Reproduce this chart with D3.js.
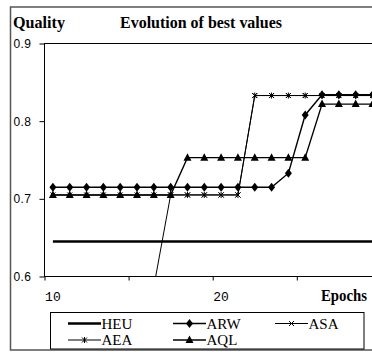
<!DOCTYPE html>
<html>
<head>
  <meta charset="UTF-8">
  <title>Evolution of best values</title>
  <style>
    body { margin: 0; background: #fff; }
    svg { display: block; }
  </style>
</head>
<body>
  <svg id="chart" width="372" height="352"></svg>

  <script src="https://d3js.org/d3.v7.min.js"></script>
  <script>
    // values, epochs 10..30
    var epochs = d3.range(10, 31);
    var heu = [0.645,0.645,0.645,0.645,0.645,0.645,0.645,0.645,0.645,0.645,0.645,0.645,0.645,0.645,0.645,0.645,0.645,0.645,0.645,0.645,0.645];
    var arw = [0.715,0.715,0.715,0.715,0.715,0.715,0.715,0.715,0.715,0.715,0.715,0.715,0.715,0.715,0.733,0.808,0.834,0.834,0.834,0.834,0.834];
    var asa = [0.705,0.705,0.705,0.705,0.705,0.705,0.705,0.705,0.705,0.705,0.705,0.705,0.833,0.833,0.833,0.833,0.833,0.833,0.833,0.833,0.833];
    var aea = [0.585,0.585,0.585,0.585,0.585,0.585,0.587,0.705,0.705,0.705,0.705,0.705,0.833,0.833,0.833,0.833,0.833,0.833,0.833,0.833,0.833];
    var aql = [0.705,0.705,0.705,0.705,0.705,0.705,0.705,0.705,0.753,0.753,0.753,0.753,0.753,0.753,0.753,0.753,0.822,0.822,0.822,0.822,0.822];

    var yTicks = [0.6, 0.7, 0.8, 0.9];
    var xTicks = [9.5, 14.5, 19.5, 24.5, 29.5];   // tick marks sit between categories
    var xLabels = [10, 20];                       // 30 falls outside the cropped picture

    var series = [
      {name: "HEU", values: heu, width: 2.6, marker: null},
      {name: "AEA", values: aea, width: 1, marker: "star"},
      {name: "ASA", values: asa, width: 1, marker: "cross"},
      {name: "ARW", values: arw, width: 1.4, marker: "diamond"},
      {name: "AQL", values: aql, width: 1.4, marker: "triangle"}
    ];
    var legendOrder = ["HEU", "ARW", "ASA", "AEA", "AQL"];

    var svg = d3.select("#chart");

    var x = d3.scaleLinear().domain([9.5, 29.5]).range([44.5, 380.9]);
    var y = d3.scaleLinear().domain([0.6, 0.9]).range([276.5, 43.5]);

    // outer frame (its right side is cut off in the picture)
    svg.append("rect")
      .attr("x", 10.5).attr("y", 7)
      .attr("width", 400).attr("height", 343)
      .attr("fill", "none").attr("stroke", "#555").attr("stroke-width", 1.5);

    // plot area border
    svg.append("rect")
      .attr("x", x.range()[0]).attr("y", y(0.9))
      .attr("width", 400).attr("height", y(0.6) - y(0.9))
      .attr("fill", "none").attr("stroke", "#000").attr("stroke-width", 1);

    svg.append("clipPath").attr("id", "plot-clip")
      .append("rect")
        .attr("x", x.range()[0]).attr("y", y(0.9) - 6)
        .attr("width", 400).attr("height", y(0.6) - y(0.9) + 6);

    // y axis
    var yAxis = svg.append("g")
      .attr("transform", "translate(" + x.range()[0] + ",0)")
      .call(d3.axisLeft(y).tickValues(yTicks).tickSize(5).tickFormat(d3.format(".1f")));
    yAxis.select(".domain").remove();
    yAxis.selectAll("line").attr("stroke", "#000");
    yAxis.selectAll("text")
      .attr("x", -31).attr("text-anchor", "start")
      .style("font-family", "'Liberation Sans', Arial, sans-serif")
      .style("font-size", "12px").style("letter-spacing", "0.4px")
      .attr("fill", "#000");

    // x axis
    var xAxis = svg.append("g")
      .attr("transform", "translate(0," + y(0.6) + ")")
      .call(d3.axisBottom(x).tickValues(xTicks).tickSize(4).tickFormat(""));
    xAxis.select(".domain").remove();
    xAxis.selectAll("line").attr("stroke", "#000");

    svg.append("g").selectAll("text")
      .data(xLabels)
      .enter().append("text")
        .attr("x", function(d) { return x(d); })
        .attr("y", 301)
        .attr("text-anchor", "middle")
        .style("font-family", "'Liberation Mono', 'Courier New', monospace")
        .style("font-size", "13px")
        .text(function(d) { return d; });

    // titles
    var serif = "'Liberation Serif', 'Times New Roman', serif";
    svg.append("text").attr("x", 13).attr("y", 28)
      .style("font-family", serif).style("font-weight", "bold").style("font-size", "16px")
      .attr("textLength", 52).attr("lengthAdjust", "spacingAndGlyphs")
      .text("Quality");
    svg.append("text").attr("x", 120).attr("y", 28)
      .style("font-family", serif).style("font-weight", "bold").style("font-size", "16px")
      .attr("textLength", 162).attr("lengthAdjust", "spacingAndGlyphs")
      .text("Evolution of best values");
    svg.append("text").attr("x", 321).attr("y", 301)
      .style("font-family", serif).style("font-weight", "bold").style("font-size", "16px")
      .attr("textLength", 46).attr("lengthAdjust", "spacingAndGlyphs")
      .text("Epochs");

    function drawMarker(sel, type) {
      if (type === "diamond") {
        sel.append("path").attr("d", "M0,-4.5L3.5,0L0,4.5L-3.5,0Z").attr("fill", "#000");
      } else if (type === "triangle") {
        sel.append("path").attr("d", "M0,-4.5L4,3L-4,3Z").attr("fill", "#000");
      } else if (type === "cross") {
        sel.append("path").attr("d", "M-2.5,-2.5L2.5,2.5M-2.5,2.5L2.5,-2.5")
          .attr("stroke", "#000").attr("stroke-width", 1).attr("fill", "none");
      } else if (type === "star") {
        sel.append("path").attr("d", "M-2.5,-2.5L2.5,2.5M-2.5,2.5L2.5,-2.5M0,-3L0,3")
          .attr("stroke", "#000").attr("stroke-width", 1).attr("fill", "none");
      }
    }

    var plot = svg.append("g").attr("clip-path", "url(#plot-clip)");

    var line = d3.line()
      .x(function(d, i) { return x(epochs[i]); })
      .y(function(d) { return y(d); });

    series.forEach(function(s) {
      var g = plot.append("g");
      g.append("path")
        .attr("d", line(s.values))
        .attr("fill", "none")
        .attr("stroke", "#000")
        .attr("stroke-width", s.width);
      if (s.marker) {
        g.selectAll(".m")
          .data(s.values.map(function(v, i) { return [epochs[i], v]; }).filter(function(d) { return d[1] >= 0.6; }))
          .enter().append("g")
            .attr("class", "m")
            .attr("transform", function(d) { return "translate(" + x(d[0]) + "," + y(d[1]) + ")"; })
            .each(function() { drawMarker(d3.select(this), s.marker); });
      }
    });

    // legend
    svg.append("rect")
      .attr("x", 50.5).attr("y", 312.5)
      .attr("width", 313.5).attr("height", 36.5)
      .attr("fill", "#fff").attr("stroke", "#000").attr("stroke-width", 1);

    var colX = [68, 173, 275];
    var rowY = [323.5, 340];
    var legend = svg.selectAll(".legend")
      .data(legendOrder)
      .enter().append("g")
        .attr("class", "legend")
        .attr("transform", function(d, i) { return "translate(" + colX[i % 3] + "," + rowY[Math.floor(i / 3)] + ")"; });

    legend.each(function(name) {
      var s = series.filter(function(t) { return t.name === name; })[0];
      var g = d3.select(this);
      g.append("line").attr("x1", 0).attr("x2", 33).attr("y1", 0).attr("y2", 0)
        .attr("stroke", "#000").attr("stroke-width", s.width);
      if (s.marker) {
        var m = g.append("g").attr("transform", "translate(16.5,0)");
        drawMarker(m, s.marker);
      }
      g.append("text").attr("x", 33.5).attr("y", 5)
        .style("font-family", serif).style("font-size", "15px")
        .text(name);
    });
  </script>
</body>
</html>
